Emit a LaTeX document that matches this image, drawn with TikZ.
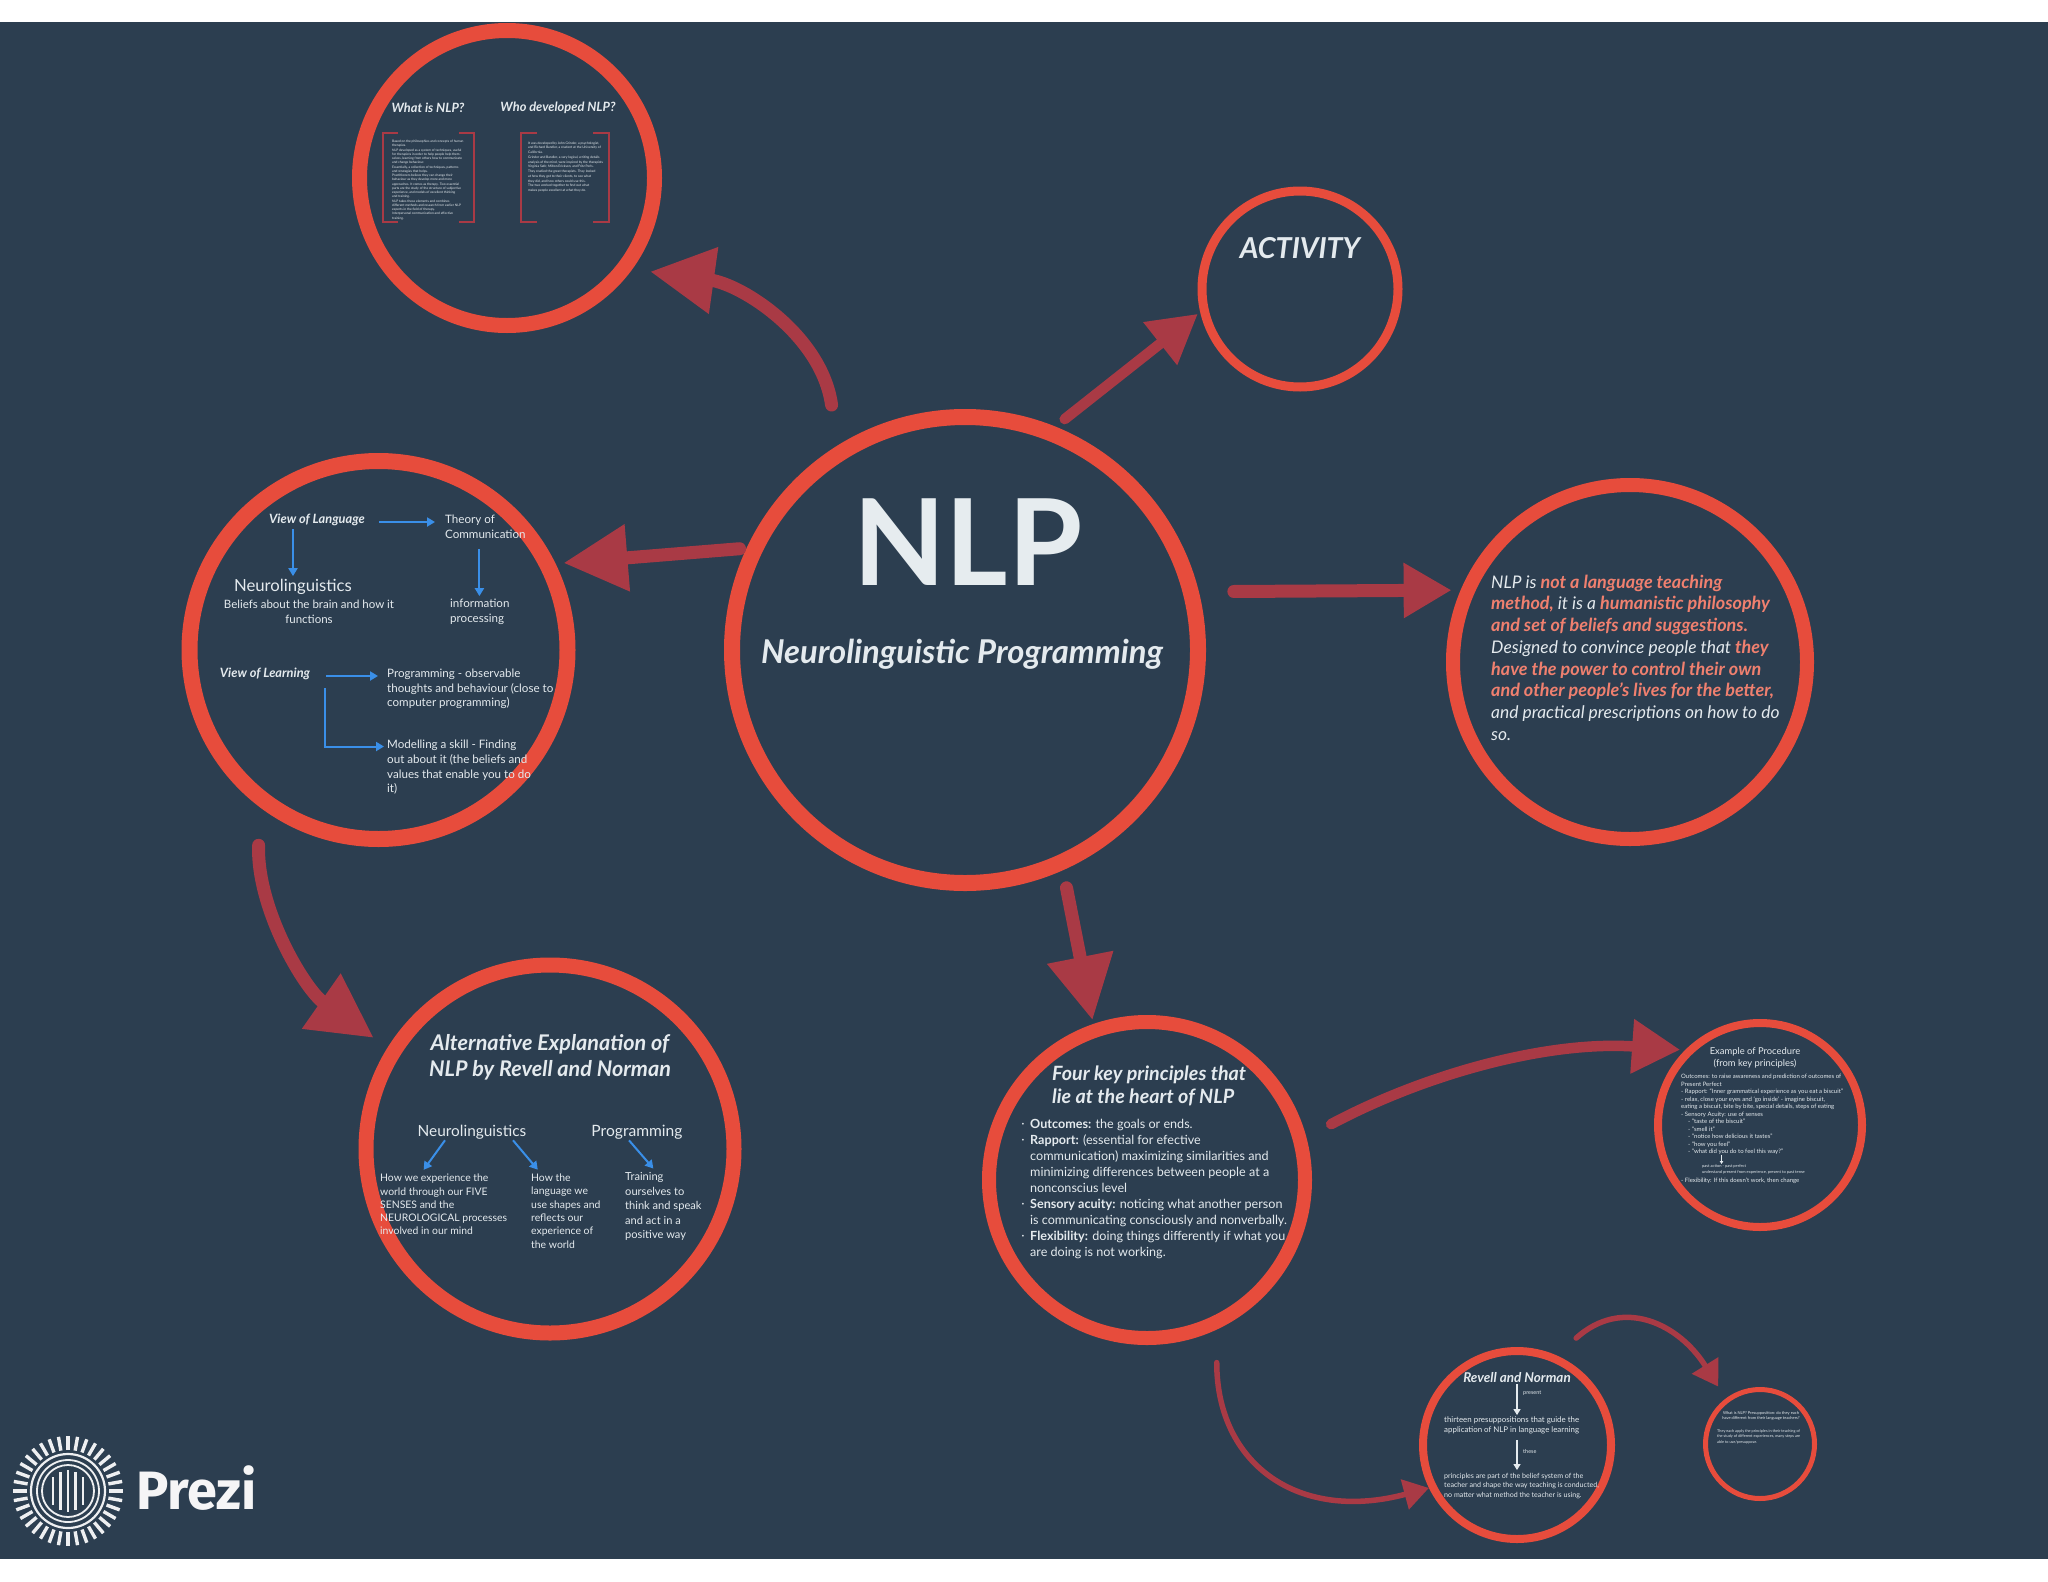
\documentclass[tikz,border=0pt]{standalone}
\usepackage{fontspec}
\setmainfont{Lato}
\newfontfamily\logofont{Fira Sans}
\usetikzlibrary{arrows.meta}
\definecolor{slatebg}{HTML}{2C3E50}
\definecolor{ringred}{HTML}{E74C3C}
\definecolor{flowred}{HTML}{A93A45}
\definecolor{flowblue}{HTML}{3A8FE8}
\definecolor{paletext}{HTML}{E4EAEE}
\definecolor{coraltext}{HTML}{F0806F}
\newcommand{\fs}[2]{\fontsize{#1}{#2}\selectfont}
\newcommand{\coral}[1]{\textcolor{coraltext}{\fs{18}{21.75}\bfseries #1}}
\tikzset{
  ring/.style={circle, draw=ringred, inner sep=0pt},
  plain/.style={align=left, inner sep=0pt, text=paletext, anchor=west, yshift=-1pt},
  centred/.style={align=center, inner sep=0pt, text=paletext, yshift=-1pt},
  heading/.style={centred, font=\fs{12.8}{15}\bfseries\itshape},
  viewtext/.style={plain, font=\fs{11.6}{14.7}},
  alttext/.style={plain, font=\fs{10.4}{13.3}},
  tinytext/.style={plain, font=\fs{3.25}{4.25}},
  bracket/.style={draw=flowred, line width=2.4pt},
  bigflow/.style={-{Triangle[length=64pt, width=64pt]}, line width=13pt, draw=flowred, line cap=round},
  midflow/.style={-{Triangle[length=48pt, width=52pt]}, line width=10.5pt, draw=flowred, line cap=round},
  thinflow/.style={-{Triangle[length=25pt, width=30pt]}, line width=5.5pt, draw=flowred, line cap=round},
  blueflow/.style={-{Triangle[length=8pt, width=9pt]}, line width=2pt, draw=flowblue},
  whiteflow/.style={-{Triangle[length=6pt, width=7pt]}, line width=1.2pt, draw=paletext}
}
\begin{document}
\begin{tikzpicture}[x=1pt, y=-1pt]

\useasboundingbox (0,0) rectangle (2048,1582);
\fill[white] (0,0) rectangle (2048,1582);
\fill[slatebg] (0,22) rectangle (2048,1559);

\node[ring, minimum size=466pt, line width=16pt] (nlp) at (965,650) {};
\node[ring, minimum size=295pt, line width=15pt] (whatis) at (507,178) {};
\node[ring, minimum size=196pt, line width=9pt] (activity) at (1300,289) {};
\node[ring, minimum size=378pt, line width=16pt] (viewring) at (378.5,650) {};
\node[ring, minimum size=354pt, line width=14pt] (nlpis) at (1630,662) {};
\node[ring, minimum size=368pt, line width=15pt] (altring) at (550,1149) {};
\node[ring, minimum size=316pt, line width=14pt] (fourkey) at (1147,1180) {};
\node[ring, minimum size=204pt, line width=8pt] (example) at (1760,1125) {};
\node[ring, minimum size=188pt, line width=8pt] (revell) at (1517,1445) {};
\node[ring, minimum size=109pt, line width=5pt] (thinkring) at (1760,1444) {};

\node[centred, text=paletext!92!white, font=\fs{120}{120}\bfseries] (nlptitle) at (968,541) {NLP};
\node[centred, font=\fs{32.8}{36}\bfseries\itshape] (nlpsub) at (962,653) {Neurolinguistic Programming};

\node[heading] (whatq) at (428,107) {What is NLP?};
\node[heading] (whoq) at (558,107) {Who developed NLP?};
\draw[bracket] (398,133) -- (383,133) -- (383,222) -- (398,222);
\draw[bracket] (459,133) -- (474,133) -- (474,222) -- (459,222);
\draw[bracket] (537,133) -- (521,133) -- (521,222) -- (537,222);
\draw[bracket] (593,133) -- (609,133) -- (609,222) -- (593,222);
\node[tinytext] (whattext) at (392,179) {Based on the philosophies and concepts of human\\therapies.\\NLP developed as a system of techniques, useful\\for therapists in order to help people help them-\\selves, learning from others how to communicate\\and change behaviour.\\Essentially, a collection of techniques, patterns\\and strategies that helps.\\Practitioners believe they can change their\\behaviour as they develop more and more\\approaches. It comes as therapy. Two essential\\parts are the study of the structure of subjective\\experience, and models of excellent thinking\\and training.\\NLP takes these elements and combines\\different methods and research from earlier NLP\\experts in the field of therapy.\\Interpersonal communication and effective\\training.};
\node[tinytext, font=\fs{3.3}{4.75}] (whotext) at (528,166) {It was developed by John Grinder, a psychologist,\\and Richard Bandler, a student at the University of\\California.\\Grinder and Bandler, a very logical, writing details\\analysis of the mind, were inspired by the therapists\\Virginia Satir, Milton Erickson, and Fritz Perls.\\They studied the great therapists. They looked\\at how they got to their clients, to see what\\they did, and how others could use this.\\The two worked together to find out what\\makes people excellent at what they do.};

\node[centred, font=\fs{28.8}{30}\bfseries\itshape] (activitytitle) at (1300,247) {ACTIVITY};

\node[heading] (viewlang) at (317,519) {View of Language};
\node[viewtext] (theory) at (445,526) {Theory of\\Communication};
\node[centred, font=\fs{16.7}{20}] (neuroview) at (293,586) {Neurolinguistics};
\node[centred, font=\fs{11.5}{14.7}] (beliefs) at (309,611) {Beliefs about the brain and how it\\functions};
\node[viewtext] (info) at (450,611) {information\\processing};
\node[heading] (viewlearn) at (265,673) {View of Learning};
\node[viewtext] (program) at (387,688) {Programming - observable\\thoughts and behaviour (close to\\computer programming)};
\node[viewtext] (model) at (387,766.5) {Modelling a skill - Finding\\out about it (the beliefs and\\values that enable you to do\\it)};

\draw[blueflow] (neuroview.north |- viewlang.south) ++(0,3) -- ([yshift=3pt]neuroview.north);
\draw[blueflow] ([xshift=14pt,yshift=-2pt]viewlang.east) -- ([xshift=-10pt,yshift=5pt]theory.west);
\draw[blueflow] ([xshift=-6pt,yshift=-10pt]theory.south) -- ([xshift=-6pt,yshift=3pt]theory.south |- info.north);
\draw[blueflow] ([xshift=16pt,yshift=-2pt]viewlearn.east) -- ([xshift=-9pt,yshift=13pt]program.west);
\draw[blueflow] ([xshift=15pt,yshift=-14pt]viewlearn.east) |- ([xshift=-3pt,yshift=21pt]model.west);

\node[centred, font=\fs{21.6}{26}\bfseries\itshape] (alttitle) at (550,1056) {Alternative Explanation of\\NLP by Revell and Norman};
\node[centred, font=\fs{15.4}{19}] (altneuro) at (472,1131) {Neurolinguistics};
\node[centred, font=\fs{15.6}{19}] (altprog) at (637,1131) {Programming};
\node[alttext] (alttextone) at (380,1203.5) {How we experience the\\world through our FIVE\\SENSES and the\\NEUROLOGICAL processes\\involved in our mind};
\node[alttext] (alttexttwo) at (531,1210) {How the\\language we\\use shapes and\\reflects our\\experience of\\the world};
\node[plain, font=\fs{11.1}{14.4}] (alttextthree) at (625,1205.5) {Training\\ourselves to\\think and speak\\and act in a\\positive way};

\draw[blueflow] ([xshift=-27pt,yshift=-1pt]altneuro.south) -- ([xshift=-20pt,yshift=4pt]alttextone.north);
\draw[blueflow] ([xshift=41pt,yshift=-1pt]altneuro.south) -- ([xshift=-28pt,yshift=4pt]alttexttwo.north);
\draw[blueflow] ([xshift=-8pt,yshift=-1pt]altprog.south) -- ([xshift=-10pt,yshift=4pt]alttextthree.north);

\node[plain, font=\fs{17.4}{21.75}\itshape] (nlpistext) at (1491,656.5) {NLP is \coral{not a language teaching}\\\coral{method,} it is a \coral{humanistic philosophy}\\\coral{and set of beliefs and suggestions.}\\Designed to convince people that \coral{they}\\\coral{have the power to control their own}\\\coral{and other people's lives for the better,}\\and practical prescriptions on how to do\\so.};

\node[plain, font=\fs{19.7}{23}\bfseries\itshape] (fourtitle) at (1052,1084.5) {Four key principles that\\lie at the heart of NLP};
\node[plain, font=\fs{12.6}{16}] (fourtext) at (1030,1188) {\textbf{Outcomes:} the goals or ends.\\\textbf{Rapport:} (essential for efective\\communication) maximizing similarities and\\minimizing differences between people at a\\nonconscius level\\\textbf{Sensory acuity:} noticing what another person\\is communicating consciously and nonverbally.\\\textbf{Flexibility:} doing things differently if what you\\are doing is not working.};
\node[centred, font=\fs{16}{16}] (bulletone) at (1023,1124) {$\cdot$};
\node[centred, font=\fs{16}{16}] (bullettwo) at (1023,1140) {$\cdot$};
\node[centred, font=\fs{16}{16}] (bulletthree) at (1023,1204) {$\cdot$};
\node[centred, font=\fs{16}{16}] (bulletfour) at (1023,1236) {$\cdot$};

\node[centred, font=\fs{9.4}{12.5}] (extitle) at (1755,1057) {Example of Procedure\\(from key principles)};
\node[plain, font=\fs{6}{7.45}] (extext) at (1681,1113.5) {Outcomes: to raise awareness and prediction of outcomes of\\Present Perfect\\- Rapport: ``Inner grammatical experience as you eat a biscuit''\\- relax, close your eyes and `go inside' - imagine biscuit,\\eating a biscuit, bite by bite, special details, steps of eating\\- Sensory Acuity: use of senses\\\hspace*{7pt}- ``taste of the biscuit''\\\hspace*{7pt}- ``smell it''\\\hspace*{7pt}- ``notice how delicious it tastes''\\\hspace*{7pt}- ``how you feel''\\\hspace*{7pt}- ``what did you do to feel this way?''};
\node[plain, font=\fs{4}{6}] (expast) at (1702,1168) {past action - past perfect\\understand present from experience, present to past tense};
\node[plain, font=\fs{6}{7.45}] (exflex) at (1681,1180) {- Flexibility: If this doesn't work, then change};
\draw[whiteflow, line width=.8pt, -{Triangle[length=3pt, width=3.5pt]}] ([xshift=-32pt]expast.north |- extext.south) -- ([xshift=-32pt]expast.north);

\node[centred, font=\fs{13.5}{16}\bfseries\itshape] (revelltitle) at (1517,1377) {Revell and Norman};
\node[plain, font=\fs{5.5}{6}] (presentlabel) at (1523,1392) {present};
\node[plain, font=\fs{7.9}{10.2}] (thirteen) at (1444,1424) {thirteen presuppositions that guide the\\application of NLP in language learning};
\node[plain, font=\fs{5.5}{6}] (theselabel) at (1523,1450) {these};
\node[plain, font=\fs{7.1}{9.5}] (principles) at (1444,1485) {principles are part of the belief system of the\\teacher and shape the way teaching is conducted,\\no matter what method the teacher is using.};
\draw[whiteflow, shorten <=1pt, shorten >=1pt] (revelltitle.south) -- (revelltitle.south |- thirteen.north);
\draw[whiteflow, shorten <=6pt, shorten >=3pt] (revelltitle.south |- thirteen.south) -- (revelltitle.south |- principles.north);

\node[centred, font=\fs{4}{5}] (thinkhead) at (1761,1414.5) {What is NLP? Presupposition: do they each\\have different from their language teachers?};
\node[plain, font=\fs{3.8}{5.5}] (thinktext) at (1717,1435.5) {They each apply the principles in their teaching of\\the study of different experiences, many steps are\\able to use/presuppose.};

\draw[bigflow, shorten <=41pt, shorten >=18pt] (nlp.122) to[out=98, in=-8, looseness=1.05] (whatis.-36);
\draw[midflow, shorten <=12pt, shorten >=3pt] (nlp.68) -- (activity.193);
\draw[bigflow, shorten <=7pt, shorten >=8pt] (nlp.155) -- (viewring.26);
\draw[midflow, line width=13pt, shorten <=35pt, shorten >=9pt] (nlp.14.4) -- (nlpis.157.5);
\draw[bigflow, shorten <=18pt, shorten >=4pt] (nlp.-66.6) -- (fourkey.109.3);
\draw[bigflow, shorten <=38pt, shorten >=17pt] (viewring.-127.4) to[out=-92, in=145, looseness=.95] (altring.148);
\draw[midflow, shorten <=28pt, shorten >=5pt] (fourkey.15.4) to[out=28, in=176, looseness=.9] (example.135.7);
\draw[thinflow, shorten <=33pt] (fourkey.-65.3) to[out=-90, in=195, looseness=1.3] (revell.206.8);
\draw[thinflow, shorten <=26pt, shorten >=14pt] (revell.66) to[out=42, in=122, looseness=1.3] (thinkring.127);

\coordinate (logomid) at (68,1491);
\foreach \a in {0,10,...,350}
  \draw[white!92!slatebg, line width=3.4pt] (logomid) ++(\a:41pt) -- ++(\a:14pt);
\foreach \r/\w in {37/2.2, 31/1.8, 26/1.8}
  \draw[white!92!slatebg, line width=\w pt] (logomid) circle[radius=\r pt];
\foreach \d/\h in {-15/14, -7.5/19, 0/21, 7.5/19, 15/14}
  \draw[white!92!slatebg, line width=2.8pt] (logomid) ++(\d,-\h) -- ++(0,2*\h);
\node[inner sep=0pt, anchor=base west, text=white!95!slatebg, font=\logofont\fs{54}{54}\bfseries] (prezilogo) at (136,1509) {Prezi};

\end{tikzpicture}
\end{document}
